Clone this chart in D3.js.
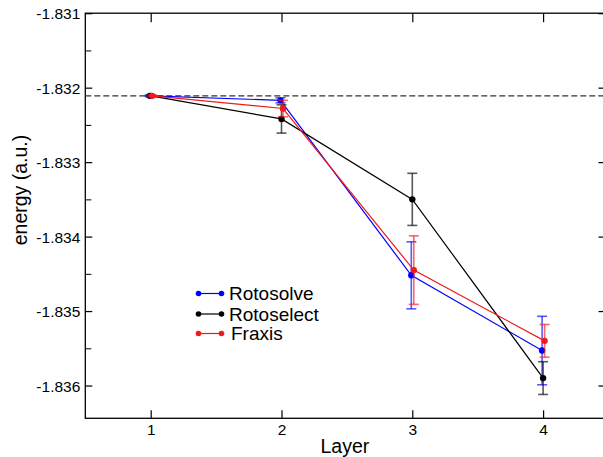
<!DOCTYPE html>
<html><head><meta charset="utf-8">
<script src="https://cdn.jsdelivr.net/npm/d3@7"></script>
<style>body{margin:0;background:#fff}svg{display:block;font-family:Arial,"Liberation Sans",sans-serif}</style>
</head><body><svg id="c" width="603" height="457"></svg>
<script>
const layers = [1, 2, 3, 4];
const xTicks = [1, 2, 3, 4];
const yTicks = [-1.831, -1.832, -1.833, -1.834, -1.835, -1.836];
const yMinorTicks = [-1.8315, -1.8325, -1.8335, -1.8345, -1.8355];
const referenceEnergy = -1.83211;
const seriesNames = ["Rotosolve", "Rotoselect", "Fraxis"];
const seriesColors = ["#0000ff", "#000000", "#f01a1a"];
const rotosolve = [-1.83211, -1.83217, -1.83452, -1.83553];
const rotosolveErr = [0.00001, 0.000034, 0.00045, 0.00046];
const rotoselect = [-1.83211, -1.83242, -1.83350, -1.83590];
const rotoselectErr = [0.00001, 0.00019, 0.00035, 0.00022];
const fraxis = [-1.83211, -1.83228, -1.83445, -1.83540];
const fraxisErr = [0.00001, 0.00011, 0.00046, 0.00022];
const xOffsets = [-1, 0, 1.5];

const series = [
  {name: seriesNames[0], color: seriesColors[0], v: rotosolve, e: rotosolveErr, dx: xOffsets[0]},
  {name: seriesNames[1], color: seriesColors[1], v: rotoselect, e: rotoselectErr, dx: xOffsets[1]},
  {name: seriesNames[2], color: seriesColors[2], v: fraxis, e: fraxisErr, dx: xOffsets[2]}
];

const svg = d3.select("#c");
const x = d3.scaleLinear().domain([0.5, 4.5]).range([85.3, 608.5]);
const y = d3.scaleLinear().domain([-1.831, -1.83644]).range([13.2, 418.3]);
const L = 85.3, R = 608.5, T = 13.2, B = 418.3;

svg.append("rect").attr("x", L).attr("y", T).attr("width", R - L).attr("height", B - T)
  .attr("fill", "none").attr("stroke", "#000").attr("stroke-width", 1.3);

const leftAxis = svg.append("g").attr("transform", `translate(${L},0)`)
  .call(d3.axisLeft(y).tickValues(yTicks).tickFormat(d => d.toFixed(3)).tickSizeInner(-7).tickSizeOuter(0));
leftAxis.selectAll("text").attr("font-size", "15.5px").attr("fill", "#000").attr("x", -5).attr("dy", "0.36em");
leftAxis.select(".domain").remove();
leftAxis.selectAll(".tick line").attr("stroke-width", 1.2);
const leftMinor = svg.append("g").attr("transform", `translate(${L},0)`)
  .call(d3.axisLeft(y).tickValues(yMinorTicks).tickFormat("").tickSizeInner(-6).tickSizeOuter(0));
leftMinor.select(".domain").remove();

const rightAxis = svg.append("g").attr("transform", `translate(${R},0)`)
  .call(d3.axisRight(y).tickValues(yTicks).tickFormat("").tickSizeInner(-10).tickSizeOuter(0));
rightAxis.select(".domain").remove();
rightAxis.selectAll(".tick line").attr("stroke-width", 1.2);

const bottomAxis = svg.append("g").attr("transform", `translate(0,${B})`)
  .call(d3.axisBottom(x).tickValues(xTicks).tickFormat(d3.format("d")).tickSizeInner(-8).tickSizeOuter(0));
bottomAxis.select(".domain").remove();
bottomAxis.selectAll("text").attr("font-size", "15.5px").attr("fill", "#000").attr("y", 6);
bottomAxis.selectAll(".tick line").attr("stroke-width", 1.2);

const topAxis = svg.append("g").attr("transform", `translate(0,${T})`)
  .call(d3.axisTop(x).tickValues(xTicks).tickFormat("").tickSizeInner(-9).tickSizeOuter(0));
topAxis.select(".domain").remove();
topAxis.selectAll(".tick line").attr("stroke-width", 1.2);

svg.append("text").attr("x", (L + R) / 2 - 2).attr("y", 453).attr("text-anchor", "middle")
  .attr("font-size", "19.5px").text("Layer");
svg.append("text").attr("transform", "translate(27,190) rotate(-90)").attr("text-anchor", "middle")
  .attr("font-size", "19.5px").text("energy (a.u.)");

svg.append("line").attr("x1", L).attr("x2", R).attr("y1", y(referenceEnergy)).attr("y2", y(referenceEnergy))
  .attr("stroke", "#333").attr("stroke-width", 1.1).attr("stroke-dasharray", "6,3");

const line = d3.line();
series.forEach(s => {
  const g = svg.append("g");
  const pts = layers.map((l, i) => [x(l) + s.dx, y(s.v[i])]);
  layers.forEach((l, i) => {
    const cx = x(l) + s.dx, y1 = y(s.v[i] + s.e[i]), y2 = y(s.v[i] - s.e[i]);
    const eb = g.append("g").attr("stroke", s.color).attr("stroke-opacity", 0.65).attr("stroke-width", 1.6);
    eb.append("line").attr("x1", cx).attr("x2", cx).attr("y1", y1).attr("y2", y2);
    eb.append("line").attr("x1", cx - 5).attr("x2", cx + 5).attr("y1", y1).attr("y2", y1);
    eb.append("line").attr("x1", cx - 5).attr("x2", cx + 5).attr("y1", y2).attr("y2", y2);
  });
  g.append("path").attr("d", line(pts)).attr("fill", "none").attr("stroke", s.color).attr("stroke-width", 1.2);
  g.selectAll("circle").data(pts).join("circle").attr("cx", d => d[0]).attr("cy", d => d[1])
    .attr("r", 3.2).attr("fill", s.color);
});

const legY = [293.5, 314, 333.5];
const legTX = [229, 229, 231];
series.forEach((s, i) => {
  const g = svg.append("g");
  g.append("line").attr("x1", 198.5).attr("x2", 221.5).attr("y1", legY[i]).attr("y2", legY[i])
    .attr("stroke", s.color).attr("stroke-width", 1.2);
  g.append("circle").attr("cx", 198.5).attr("cy", legY[i]).attr("r", 2.8).attr("fill", s.color);
  g.append("circle").attr("cx", 221.5).attr("cy", legY[i]).attr("r", 2.8).attr("fill", s.color);
  g.append("text").attr("x", legTX[i]).attr("y", legY[i] + 6.8).attr("font-size", "19px").text(s.name);
});
</script></body></html>
